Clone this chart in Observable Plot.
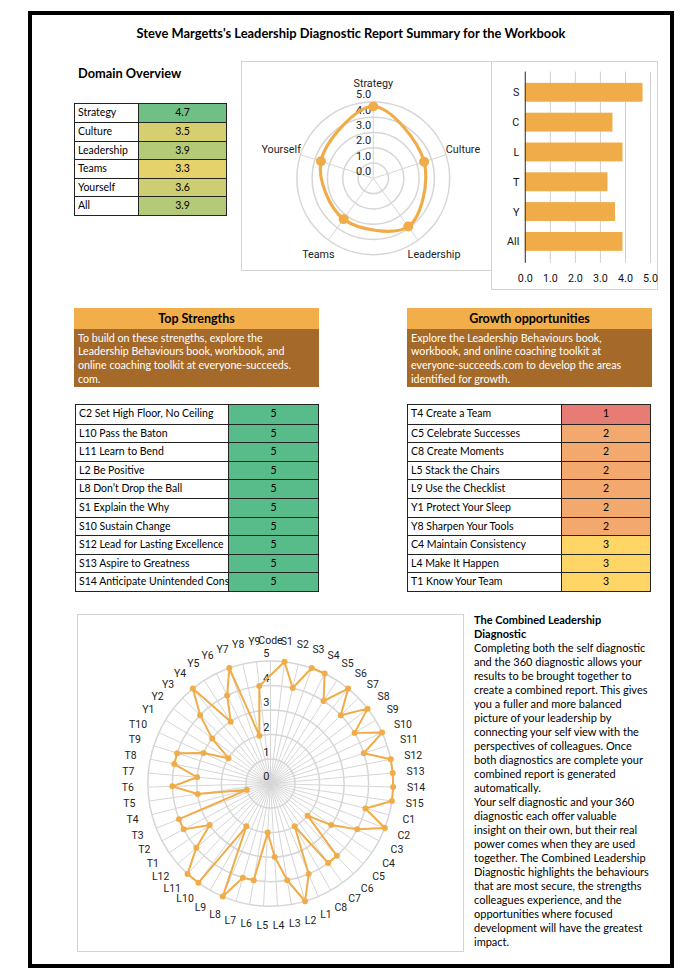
<!DOCTYPE html>
<html><head><meta charset="utf-8">
<script src="https://cdn.jsdelivr.net/npm/d3@7"></script>
<script src="https://cdn.jsdelivr.net/npm/@observablehq/plot@0.6"></script>
<style>
body{margin:0;background:#fff;}
#page{position:relative;width:680px;height:971px;overflow:hidden;font-family:Lato,"Noto Sans",sans-serif;color:#000;}
.abs{position:absolute;}
#frame{position:absolute;left:28px;top:11px;width:638px;height:949px;border:4px solid #000;}
.panel{position:absolute;border:1px solid #d3d3d3;box-sizing:border-box;}
.panel svg{position:absolute;left:-1px;top:-1px;overflow:visible;}
.hdr{position:absolute;box-sizing:border-box;}
.hdr .h{background:#f2ae4a;height:21px;line-height:21px;text-align:center;font-weight:bold;font-size:12.5px;}
.hdr .b{background:#a56a2a;color:#fff;font-size:10.7px;line-height:13.8px;padding:1.5px 4px 0 4px;height:58px;box-sizing:border-box;white-space:nowrap;}
</style></head>
<body><div id="page">
<div id="frame"></div>
<div class="abs" id="title" style="left:28px;width:646px;top:25px;text-align:center;font-weight:bold;font-size:12.9px;">Steve Margetts's Leadership Diagnostic Report Summary for the Workbook</div>
<div class="abs" style="left:78px;top:65px;font-weight:bold;font-size:12.8px;">Domain Overview</div>
<div class="panel" id="radarS" style="left:241px;top:61px;width:251px;height:210px;"></div>
<div class="panel" id="bars" style="left:491px;top:61px;width:167px;height:229px;"></div>
<div class="hdr" style="left:74px;top:308px;width:245px;"><div class="h">Top Strengths</div><div class="b">To build on these strengths, explore the<br>Leadership Behaviours book, workbook, and<br>online coaching toolkit at everyone-succeeds.<br>com.</div></div>
<div class="hdr" style="left:407px;top:308px;width:245px;"><div class="h">Growth opportunities</div><div class="b">Explore the Leadership Behaviours book,<br>workbook, and online coaching toolkit at<br>everyone-succeeds.com to develop the areas<br>identified for growth.</div></div>
<div class="panel" id="radarB" style="left:77px;top:614px;width:387px;height:338px;"></div>
<div class="abs" id="blurb" style="left:474px;top:613px;font-size:11px;line-height:14px;white-space:nowrap;"></div>
</div>
<script>
// ---------- data ----------
const domainNames = ["Strategy","Culture","Leadership","Teams","Yourself","All"];
const domainScores = [4.7,3.5,3.9,3.3,3.6,3.9];
const domainCodes = ["S","C","L","T","Y","All"];
const radarDomains = ["Strategy","Culture","Leadership","Teams","Yourself"];
const radarScores = [4.7,3.5,3.9,3.3,3.6];
const strengthNames = ["C2 Set High Floor, No Ceiling","L10 Pass the Baton","L11 Learn to Bend","L2 Be Positive","L8 Don\u2019t Drop the Ball","S1 Explain the Why","S10 Sustain Change","S12 Lead for Lasting Excellence","S13 Aspire to Greatness","S14 Anticipate Unintended Consequences"];
const strengthScores = [5,5,5,5,5,5,5,5,5,5];
const growthNames = ["T4 Create a Team","C5 Celebrate Successes","C8 Create Moments","L5 Stack the Chairs","L9 Use the Checklist","Y1 Protect Your Sleep","Y8 Sharpen Your Tools","C4 Maintain Consistency","L4 Make It Happen","T1 Know Your Team"];
const growthScores = [1,2,2,2,2,2,2,3,3,3];
const behaviourCodes = ["Code","S1","S2","S3","S4","S5","S6","S7","S8","S9","S10","S11","S12","S13","S14","S15","C1","C2","C3","C4","C5","C6","C7","C8","L1","L2","L3","L4","L5","L6","L7","L8","L9","L10","L11","L12","T1","T2","T3","T4","T5","T6","T7","T8","T9","T10","Y1","Y2","Y3","Y4","Y5","Y6","Y7","Y8","Y9"];
const behaviourScores = [null,5,4,5,5,4,5,4,5,4,5,4,5,5,5,5,4,5,4,3,2,4,4,2,4,5,4,3,2,4,4,5,2,5,5,4,3,4,4,1,3,4,3,4,4,3,2,3,4,5,3,4,5,2,4];
const radarTicks = [0,1,2,3,4,5];
const blurbLines = ["The Combined Leadership","Diagnostic","Completing both the self diagnostic","and the 360 diagnostic allows your","results to be brought together to","create a combined report. This gives","you a fuller and more balanced","picture of your leadership by","connecting your self view with the","perspectives of colleagues. Once","both diagnostics are complete your","combined report is generated","automatically.","Your self diagnostic and your 360","diagnostic each offer valuable","insight on their own, but their real","power comes when they are used","together. The Combined Leadership","Diagnostic highlights the behaviours","that are most secure, the strengths","colleagues experience, and the","opportunities where focused","development will have the greatest","impact."];

// ---------- helpers ----------
const ORANGE = "#f0ac48";
const sheetColor = Plot.scale({color:{type:"linear",domain:[1,3,5],range:["#e67c73","#ffd666","#57bb8a"]}});
const page = document.getElementById("page");
function makeTable(left, top, width, labelW, rowH, names, scores, fmt){
  const t = document.createElement("div");
  t.style.cssText = `position:absolute;left:${left}px;top:${top}px;width:${width}px;border:1px solid #222;box-sizing:border-box;font-size:10.5px;`;
  names.forEach((n,i)=>{
    const row = document.createElement("div");
    row.style.cssText = `display:flex;height:${rowH}px;box-sizing:border-box;${i?"border-top:1px solid #222;":""}`;
    const a = document.createElement("div");
    a.textContent = n;
    a.style.cssText = `width:${labelW}px;flex:none;box-sizing:border-box;border-right:1px solid #222;padding-left:3px;line-height:${rowH-1}px;white-space:nowrap;overflow:hidden;background:#fff;`;
    const b = document.createElement("div");
    b.textContent = fmt(scores[i]);
    b.style.cssText = `flex:1;text-align:center;line-height:${rowH-1}px;background:${sheetColor.apply(scores[i])};`;
    row.append(a,b); t.append(row);
  });
  page.append(t);
}
makeTable(74, 102.5, 153, 64, 18.55, domainNames, domainScores, d=>d.toFixed(1));
makeTable(75, 404, 244, 153, 18.6, strengthNames, strengthScores, String);
makeTable(407, 404, 244, 154, 18.6, growthNames, growthScores, String);

const blurb = document.getElementById("blurb");
blurbLines.forEach((l,i)=>{const d=document.createElement("div");d.textContent=l;if(i<2)d.style.fontWeight="bold";blurb.append(d);});

const canvas = document.createElement("canvas").getContext("2d");
function textW(s, px){canvas.font = `${px}px Roboto`; return canvas.measureText(s).width;}

// ---------- small radar ----------
{
  const R = 76.7, unit = R/5, n = radarDomains.length;
  const pts = radarDomains.map((name,i)=>({name, value:radarScores[i], a:2*Math.PI*i/n}));
  const lab = pts.map(d=>{
    const s=Math.sin(d.a), c=Math.cos(d.a), w=textW(d.name,10.5);
    return {name:d.name, x:(78*s + s*w/2)/unit, y:(89*c + c*6)/unit};
  });
  const svg = Plot.plot({
    width:250,height:209,marginLeft:55.6,marginRight:41,marginTop:40.6,marginBottom:15,
    style:{fontFamily:"Roboto",fontSize:"10.5px",background:"transparent",color:"#222"},
    x:{domain:[-5,5],axis:null}, y:{domain:[-5,5],axis:null},
    r:{type:"linear",domain:[0,5],range:[0,R]},
    marks:[
      Plot.dot(radarTicks.slice(1),{x:()=>0,y:()=>0,r:d=>d,stroke:"#d6d6d6",fill:"none"}),
      Plot.link(pts,{x1:()=>0,y1:()=>0,x2:d=>5*Math.sin(d.a),y2:d=>5*Math.cos(d.a),stroke:"#d6d6d6"}),
      Plot.text(radarTicks,{x:()=>0,y:d=>d,text:d=>d.toFixed(1),textAnchor:"end",dx:-2,dy:-7,fontSize:11}),
      Plot.line(pts,{x:d=>d.value*Math.sin(d.a),y:d=>d.value*Math.cos(d.a),curve:"catmull-rom-closed",stroke:ORANGE,strokeWidth:3.2}),
      Plot.dot(pts,{x:d=>d.value*Math.sin(d.a),y:d=>d.value*Math.cos(d.a),r:5,fill:ORANGE}),
      Plot.text(lab,{x:"x",y:"y",text:"name",fontSize:10.8})
    ]
  });
  document.getElementById("radarS").append(svg);
}

// ---------- bar chart ----------
{
  const rows = domainCodes.map((c,i)=>({code:c, value:domainScores[i]}));
  const svg = Plot.plot({
    width:166,height:228,marginLeft:34,marginRight:6,marginTop:10.7,marginBottom:25,
    style:{fontFamily:"Roboto",fontSize:"10.8px",background:"transparent",color:"#111"},
    x:{domain:[0,5],ticks:radarTicks,tickFormat:d3.format(".1f"),tickSize:0,tickPadding:11,label:null},
    y:{domain:domainCodes,paddingInner:0.37,paddingOuter:0.3,tickSize:0,tickPadding:6,label:null},
    marks:[
      Plot.ruleX(radarTicks,{stroke:"#d0d0d0"}),
      Plot.barX(rows,{x:"value",y:"code",fill:ORANGE}),
      Plot.ruleX([0],{stroke:"#333"})
    ]
  });
  document.getElementById("bars").append(svg);
}

// ---------- big radar ----------
{
  const R = 123, unit = R/5, n = behaviourCodes.length;
  const pts = behaviourCodes.map((code,i)=>({code, value:behaviourScores[i], a:2*Math.PI*i/n}));
  const valid = pts.filter(d=>d.value!=null);
  const lab = pts.map(d=>{
    const s=Math.sin(d.a), c=Math.cos(d.a), w=textW(d.code,10.5);
    return {code:d.code, x:(137*s + s*w/2)/unit, y:(137*c + c*6)/unit};
  });
  const svg = Plot.plot({
    width:386,height:337,marginLeft:70.5,marginRight:69.5,marginTop:46.5,marginBottom:44.5,
    style:{fontFamily:"Roboto",fontSize:"10.5px",background:"transparent",color:"#222"},
    x:{domain:[-5,5],axis:null}, y:{domain:[-5,5],axis:null},
    r:{type:"linear",domain:[0,5],range:[0,R]},
    marks:[
      Plot.link(pts,{x1:()=>0,y1:()=>0,x2:d=>5*Math.sin(d.a),y2:d=>5*Math.cos(d.a),stroke:"#d6d6d6"}),
      Plot.dot(radarTicks.slice(1),{x:()=>0,y:()=>0,r:d=>d,stroke:"#d6d6d6",fill:"none"}),
      Plot.text(radarTicks,{x:()=>0,y:d=>d,text:String,textAnchor:"end",dx:-1,dy:-7,fontSize:11}),
      Plot.line(valid,{x:d=>d.value*Math.sin(d.a),y:d=>d.value*Math.cos(d.a),curve:"linear-closed",stroke:ORANGE,strokeWidth:2}),
      Plot.dot(valid,{x:d=>d.value*Math.sin(d.a),y:d=>d.value*Math.cos(d.a),r:3,fill:ORANGE}),
      Plot.text(lab,{x:"x",y:"y",text:"code",fontSize:10.5})
    ]
  });
  document.getElementById("radarB").append(svg);
}
</script>
</body></html>
